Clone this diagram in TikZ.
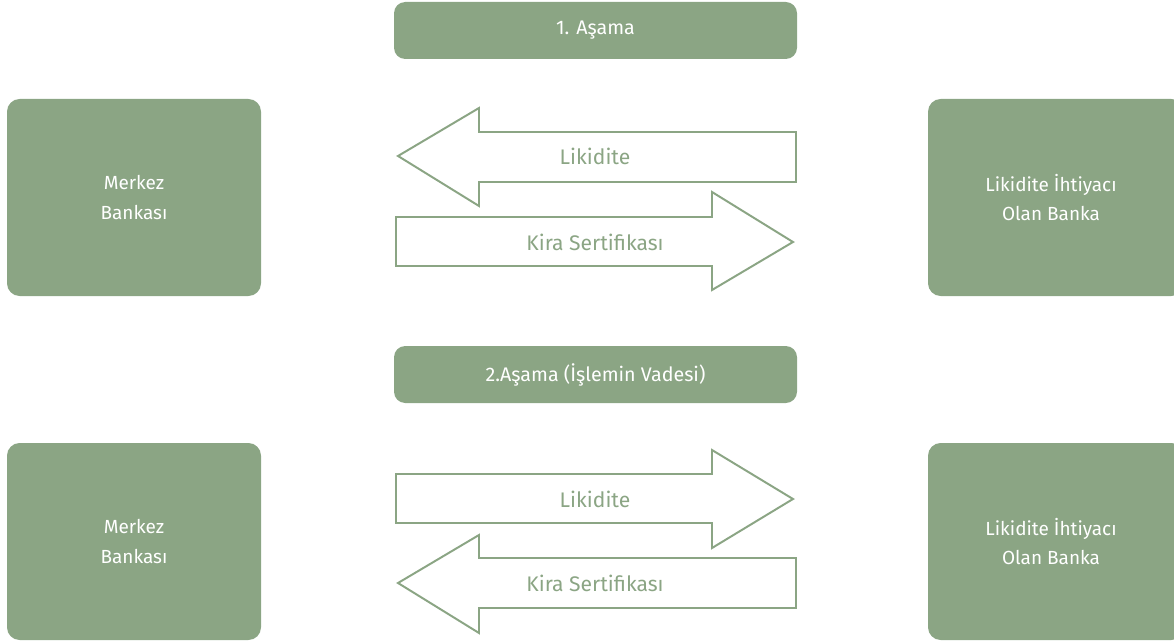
\documentclass[tikz,border=0pt]{standalone}
\usepackage{fontspec}
\setmainfont{Fira Sans}
\usepackage{tikz}
\definecolor{sage}{RGB}{139,165,132}
\tikzset{
    bank/.style={fill=sage, rounded corners=9pt, text=white, align=center, font=\fontsize{13.5}{21}\selectfont},
    phase/.style={fill=sage, rounded corners=8pt, text=white, font=\fontsize{14}{16}\selectfont},
    flow/.style={draw=sage, line width=1.4pt, fill=white, line join=miter},
    flowtext/.style={text=sage, font=\fontsize{15}{17}\selectfont}
}
\begin{document}
\begin{tikzpicture}[x=0.025cm, y=-0.025cm]
    \useasboundingbox (0,0) rectangle (1174,643);
    % 1. asama
    \fill[phase] (394,2) rectangle (797,59);
    \node[phase, fill=none] (p1) at (595.5,30.5) {1. Aşama};
    \fill[bank] (7,99) rectangle (261,296);
    \node[bank, fill=none] (mb1) at (134,197.5) {Merkez\\Bankası};
    \fill[bank] (928,99) rectangle (1184,296);
    \node[bank, fill=none] (lb1) at (1051,197.5) {Likidite İhtiyacı\\Olan Banka};
    \draw[flow] (398,156) -- (479,108) -- (479,132) -- (796,132) -- (796,182)
        -- (479,182) -- (479,206) -- cycle;
    \node[flowtext] (l1) at (595,156) {Likidite};
    \draw[flow] (396,217) -- (712,217) -- (712,192) -- (793,242) -- (712,290)
        -- (712,266) -- (396,266) -- cycle;
    \node[flowtext] (k1) at (595,242) {Kira Sertifikası};
    % 2. asama
    \fill[phase] (394,346) rectangle (797,403);
    \node[phase, fill=none] (p2) at (595.5,374.5) {2.Aşama (İşlemin Vadesi)};
    \fill[bank] (7,443) rectangle (261,640);
    \node[bank, fill=none] (mb2) at (134,541.5) {Merkez\\Bankası};
    \fill[bank] (928,443) rectangle (1184,640);
    \node[bank, fill=none] (lb2) at (1051,541.5) {Likidite İhtiyacı\\Olan Banka};
    \draw[flow] (396,474) -- (712,474) -- (712,450) -- (793,499) -- (712,548)
        -- (712,523) -- (396,523) -- cycle;
    \node[flowtext] (l2) at (595,499) {Likidite};
    \draw[flow] (398,583) -- (479,535) -- (479,558) -- (796,558) -- (796,608)
        -- (479,608) -- (479,633) -- cycle;
    \node[flowtext] (k2) at (595,583) {Kira Sertifikası};
\end{tikzpicture}
\end{document}
